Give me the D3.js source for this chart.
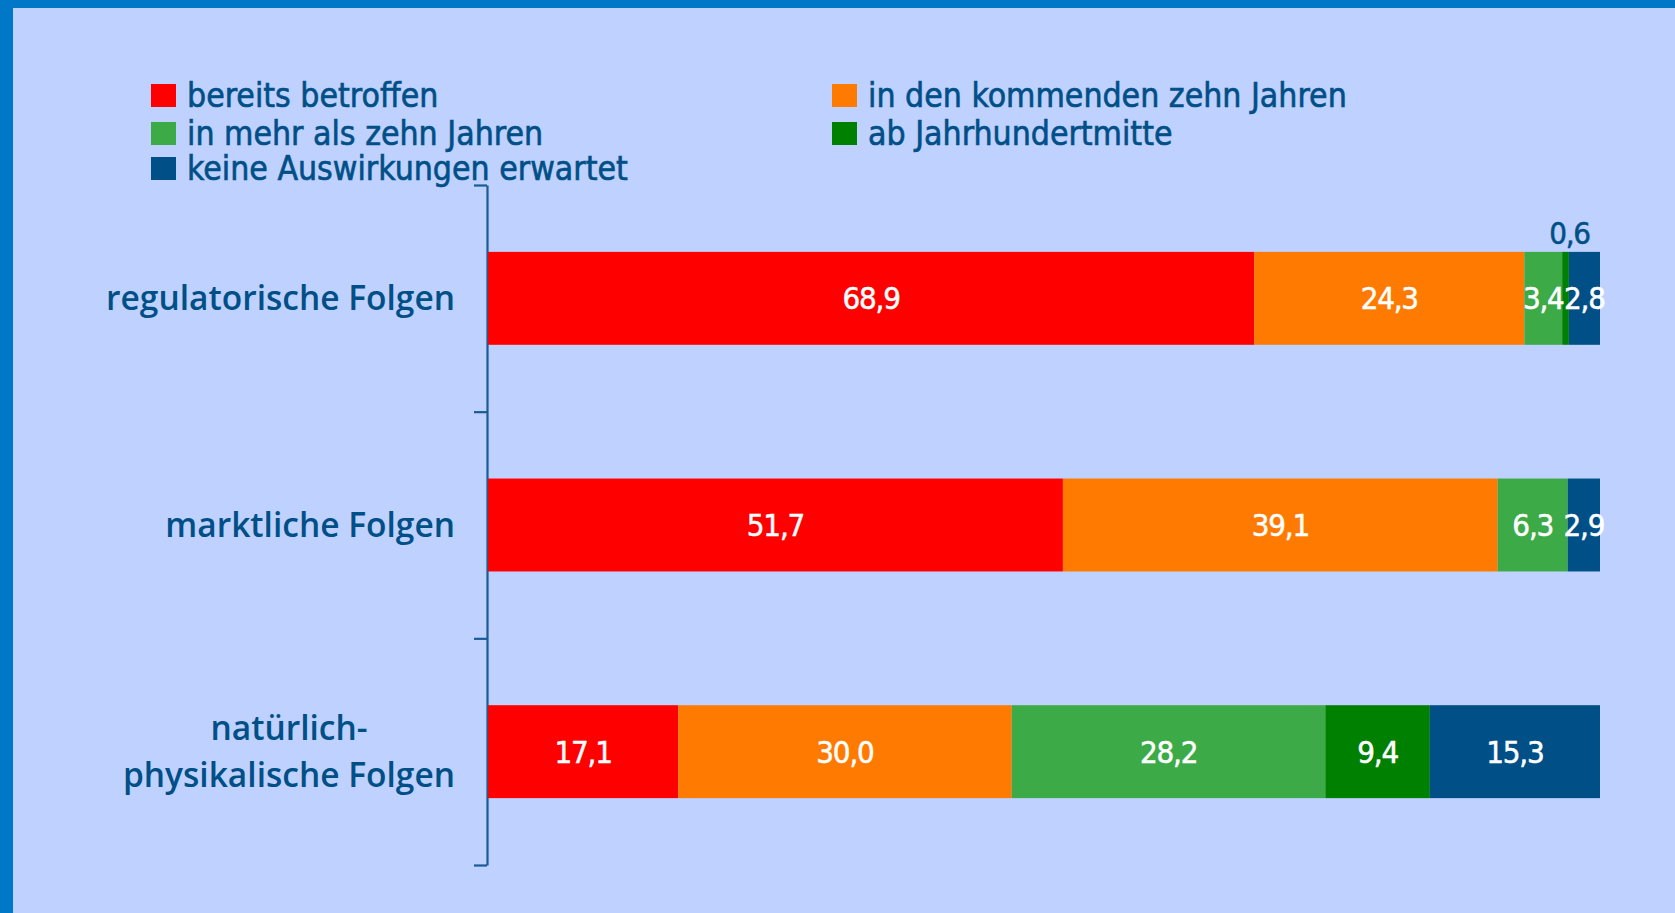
<!DOCTYPE html>
<html>
<head>
<meta charset="utf-8">
<script src="https://cdn.jsdelivr.net/npm/d3@7"></script>
<style>
  html, body { margin: 0; padding: 0; background: #bfd1ff; }
  svg { display: block; }
</style>
</head>
<body>
<svg id="chart" width="1675" height="913"></svg>
<script>
// Kategorien (jede Zeile ein Balken) und Serien (gestapelte Segmente)
const categories = [["regulatorische Folgen"], ["marktliche Folgen"], ["natürlich-", "physikalische Folgen"]]
const seriesNames = ["bereits betroffen", "in den kommenden zehn Jahren", "in mehr als zehn Jahren", "ab Jahrhundertmitte", "keine Auswirkungen erwartet"]
const seriesColors = ["#ff0000", "#ff7a00", "#3daa48", "#008000", "#004f87"]

const bereitsBetroffen = [68.9, 51.7, 17.1]
const kommendeZehnJahre = [24.3, 39.1, 30.0]
const mehrAlsZehnJahre = [3.4, 6.3, 28.2]
const abJahrhundertmitte = [0.6, 0, 9.4]
const keineAuswirkungen = [2.8, 2.9, 15.3]

const width = 1675, height = 913
const textBlue = "#004f87"
const condensed = "'Liberation Sans Narrow', 'DejaVu Sans Condensed', 'Roboto Condensed', sans-serif"

const svg = d3.select("#chart")

// Hintergrund und Rahmen (oben und links)
svg.append("rect").attr("width", width).attr("height", height).attr("fill", "#bfd1ff")
svg.append("rect").attr("width", width).attr("height", 8).attr("fill", "#0078c8")
svg.append("rect").attr("width", 13).attr("height", height).attr("fill", "#0078c8")

const keys = categories.map(c => c.join(" "))
const rows = keys.map((k, i) => ({
	key: k,
	values: [bereitsBetroffen[i], kommendeZehnJahre[i], mehrAlsZehnJahre[i], abJahrhundertmitte[i], keineAuswirkungen[i]]
}))

const stack = d3.stack()
	.keys(d3.range(seriesNames.length))
	.value((d, k) => d.values[k])
const stacked = stack(rows)

const x = d3.scaleLinear().domain([0, 100]).range([488, 1600])
const y = d3.scaleBand().domain(keys).range([185, 865]).paddingInner(0.59).paddingOuter(0.295)
const yEdge = d3.scaleLinear().domain([0, keys.length]).range([185, 865])

// Achse mit Strichen an den Bandgrenzen
const axis = svg.append("g")
	.attr("transform", "translate(487,0)")
	.call(d3.axisLeft(yEdge).tickValues(d3.range(keys.length + 1)).tickSize(13).tickSizeOuter(0).tickFormat(""))
axis.selectAll("path, line").attr("stroke", "#1a5a96").attr("stroke-width", 2.2)

// Balken
const layer = svg.append("g").selectAll("g")
	.data(stacked)
	.join("g")
	.attr("fill", d => seriesColors[d.key])

layer.selectAll("rect")
	.data(d => d.filter(s => s[1] - s[0] > 0))
	.join("rect")
	.attr("x", d => x(d[0]))
	.attr("y", d => y(d.data.key))
	.attr("width", d => x(d[1]) - x(d[0]))
	.attr("height", y.bandwidth())

// Wertbeschriftungen
const fmt = v => d3.format(".1f")(v).replace(".", ",")
const labels = []
stacked.forEach(s => s.forEach(d => {
	const v = d[1] - d[0]
	if (v > 0) labels.push({ v, cx: x((d[0] + d[1]) / 2), key: d.data.key })
}))

svg.append("g").selectAll("text")
	.data(labels)
	.join("text")
	.attr("x", d => d.v < 1 ? d.cx + 4 : d.cx)
	.attr("y", d => d.v < 1 ? y(d.key) - 8 : y(d.key) + y.bandwidth() / 2)
	.attr("dy", d => d.v < 1 ? 0 : "0.36em")
	.attr("text-anchor", "middle")
	.attr("fill", d => d.v < 1 ? textBlue : "#fff")
	.attr("stroke", d => d.v < 1 ? textBlue : "#fff")
	.attr("stroke-width", 0.5)
	.style("font-family", condensed)
	.style("font-size", "31px")
	.style("letter-spacing", "-1.2px")
	.text(d => fmt(d.v))

// Kategoriebeschriftungen
const catG = svg.append("g").selectAll("text")
	.data(categories.map((lines, i) => ({ lines, key: keys[i] })))
	.join("text")
	.attr("fill", textBlue)
	.style("font-family", "'Open Sans', 'Noto Sans', sans-serif")
	.style("font-weight", 600)
	.style("font-size", "33.5px")

catG.each(function (d) {
	const t = d3.select(this)
	const lh = 47
	const cy = y(d.key) + y.bandwidth() / 2 - (d.lines.length - 1) * lh / 2
	const tspans = t.selectAll("tspan").data(d.lines).join("tspan")
		.attr("y", (l, j) => cy + j * lh)
		.attr("dy", "0.35em")
		.text(l => l)
	let maxW = 0
	tspans.each(function () { maxW = Math.max(maxW, this.getComputedTextLength()) })
	tspans.attr("x", 455 - maxW / 2).attr("text-anchor", "middle")
})

// Legende (zwei Spalten, drei Zeilen)
const legendRowY = [84, 122, 157]
const legend = svg.append("g").selectAll("g")
	.data(seriesNames)
	.join("g")
	.attr("transform", (d, i) => `translate(${i % 2 ? 832 : 151},${legendRowY[Math.floor(i / 2)]})`)

legend.append("rect")
	.attr("width", 25).attr("height", 23)
	.attr("fill", (d, i) => seriesColors[i])

legend.append("text")
	.attr("x", 36).attr("y", 23)
	.attr("fill", textBlue)
	.attr("stroke", textBlue)
	.attr("stroke-width", 0.6)
	.style("font-family", condensed)
	.style("font-size", "33.5px")
	.text(d => d)
</script>
</body>
</html>
